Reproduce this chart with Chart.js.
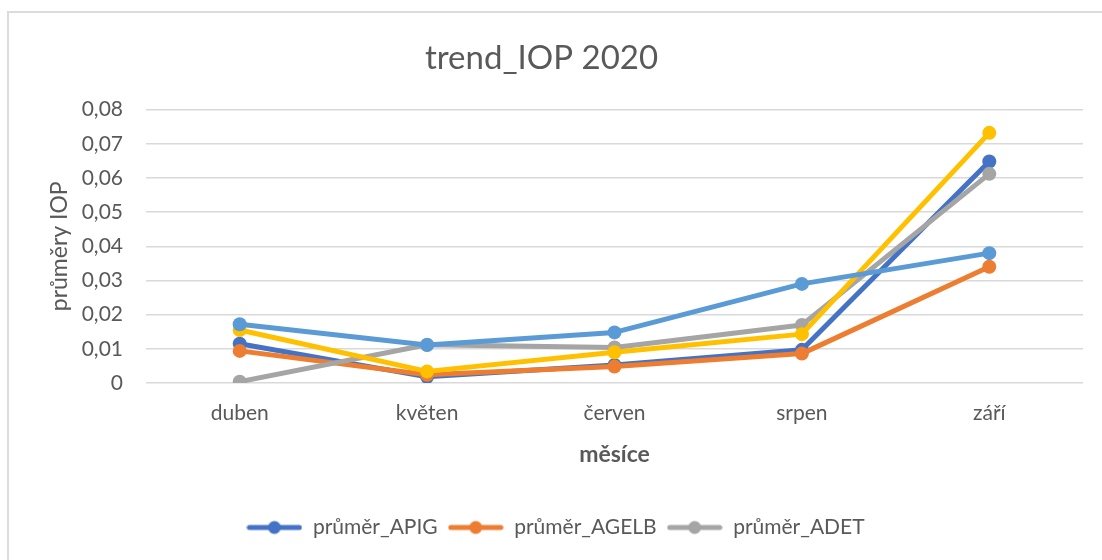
<!DOCTYPE html>
<html>
<head>
<meta charset="utf-8">
<script src="https://cdn.jsdelivr.net/npm/chart.js@4.4.1/dist/chart.umd.min.js"></script>
<style>
  html, body { margin: 0; padding: 0; background: #fff; }
  #wrap { position: relative; width: 1102px; height: 560px; overflow: hidden; }
  #frame { position: absolute; left: 7px; top: 11px; right: -10px; bottom: -10px;
           border-top: 2px solid #dcdcdc; border-left: 2px solid #dcdcdc; }
  canvas { position: absolute; left: 0; top: 0; }
</style>
</head>
<body>
<div id="wrap">
  <div id="frame"></div>
  <canvas id="chart" width="1102" height="560"></canvas>
</div>
<script>
const months = ['duben', 'květen', 'červen', 'srpen', 'září'];
const apig  = [0.0115, 0.0018, 0.0053, 0.0097, 0.0648];
const agelb = [0.0094, 0.0024, 0.0048, 0.0086, 0.0340];
const adet  = [0.0004, 0.0112, 0.0104, 0.0170, 0.0612];
const ser4  = [0.0155, 0.0034, 0.0090, 0.0143, 0.0732];
const ser5  = [0.0172, 0.0111, 0.0148, 0.0290, 0.0380];
const yTickLabels = ['0', '0,01', '0,02', '0,03', '0,04', '0,05', '0,06', '0,07', '0,08'];

const FONT = 'Lato, "Open Sans", sans-serif';
const TEXT = '#595959';

// legend marker: line with dot in the middle (Excel look)
function legendMarker(color) {
  const c = document.createElement('canvas');
  c.width = 56; c.height = 16;
  const g = c.getContext('2d');
  g.strokeStyle = color; g.lineWidth = 5; g.lineCap = 'round';
  g.beginPath(); g.moveTo(3, 8); g.lineTo(53, 8); g.stroke();
  g.fillStyle = color;
  g.beginPath(); g.arc(28, 8, 6.5, 0, Math.PI * 2); g.fill();
  return c;
}

function series(label, data, color, order) {
  return {
    label, data, order,
    borderColor: color, backgroundColor: color,
    borderWidth: 5, pointRadius: 7, pointHoverRadius: 7,
    pointBorderWidth: 0, pointBackgroundColor: color,
    tension: 0, borderJoinStyle: 'round', borderCapStyle: 'round'
  };
}

// nudge the legend a bit to the right, like the original
const legendShift = {
  id: 'legendShift',
  afterUpdate(chart) {
    if (chart.legend) {
      chart.legend.left += 14;
      chart.legend.right += 14;
    }
  }
};

new Chart(document.getElementById('chart'), {
  type: 'line',
  data: {
    labels: months,
    datasets: [
      series('průměr_APIG', apig, '#4472C4', 4),
      series('průměr_AGELB', agelb, '#ED7D31', 3),
      series('průměr_ADET', adet, '#A5A5A5', 2),
      series('průměr_4', ser4, '#FFC000', 1),
      series('průměr_5', ser5, '#5B9BD5', 0)
    ]
  },
  plugins: [legendShift],
  options: {
    responsive: false,
    animation: false,
    layout: { padding: { left: 0, right: 19, top: 0, bottom: 12 } },
    plugins: {
      title: {
        display: true,
        text: 'trend_IOP 2020',
        color: TEXT,
        font: { family: FONT, size: 33, weight: 'normal' },
        padding: { top: 39, bottom: 31 }
      },
      legend: {
        position: 'bottom',
        labels: {
          color: TEXT,
          font: { family: FONT, size: 21 },
          usePointStyle: true,
          pointStyleWidth: 56,
          boxHeight: 16,
          padding: 10,
          filter: (item) => item.datasetIndex < 3,
          sort: (a, b) => a.datasetIndex - b.datasetIndex,
          generateLabels: (chart) => {
            const items = Chart.defaults.plugins.legend.labels.generateLabels(chart);
            items.forEach(it => {
              it.pointStyle = legendMarker(chart.data.datasets[it.datasetIndex].borderColor);
            });
            return items;
          }
        }
      },
      tooltip: { enabled: false }
    },
    scales: {
      x: {
        offset: true,
        grid: { display: false, drawTicks: false },
        border: { display: false },
        ticks: { color: TEXT, font: { family: FONT, size: 21 }, padding: 18 },
        title: {
          display: true, text: 'měsíce', color: TEXT,
          font: { family: FONT, size: 23, weight: 'bold' },
          padding: { top: 0, bottom: 39 }
        },
        afterFit: (scale) => { scale.height = 124; }
      },
      y: {
        min: 0, max: 0.08,
        grid: { color: '#d9d9d9', lineWidth: 1.5, drawTicks: false },
        border: { display: false },
        ticks: {
          stepSize: 0.01, color: TEXT, padding: 23,
          font: { family: FONT, size: 21 },
          callback: (v, i) => yTickLabels[i]
        },
        title: {
          display: true, text: 'průměry IOP', color: TEXT,
          font: { family: FONT, size: 23, weight: 'normal' },
          padding: { top: 46, bottom: 0 }
        },
        afterFit: (scale) => { scale.width = 146; }
      }
    }
  }
});
</script>
</body>
</html>
